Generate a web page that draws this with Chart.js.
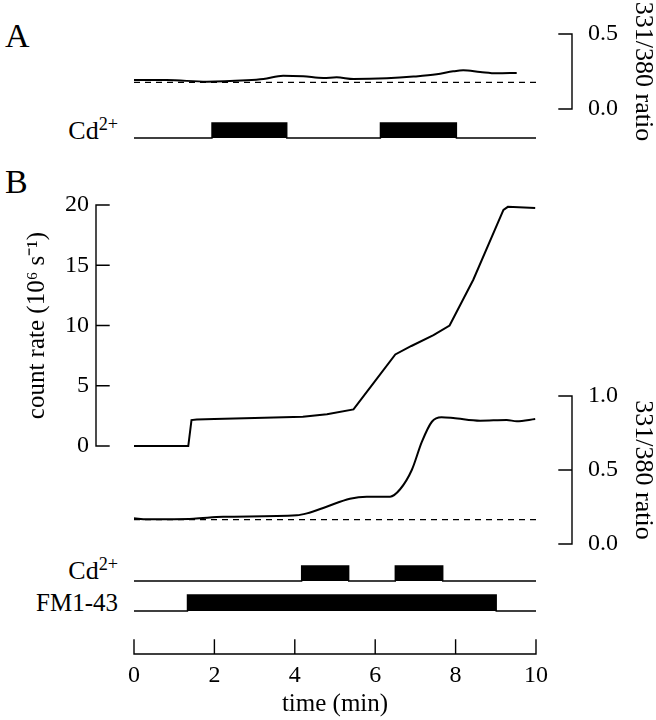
<!DOCTYPE html>
<html><head><meta charset="utf-8">
<script src="https://cdn.jsdelivr.net/npm/chart.js@4.4.0/dist/chart.umd.min.js"></script>
<style>
html,body{margin:0;padding:0;background:#fff;}
#wrap{position:relative;width:656px;height:720px;overflow:hidden;font-family:"Liberation Serif",serif;color:#000;background:#fff;}
canvas{position:absolute;left:0;}
.lbl{position:absolute;line-height:1;white-space:nowrap;font-size:25px;}
.lbl sup{font-size:0.7em;position:relative;top:-0.5em;vertical-align:baseline;line-height:0;}
.panel{font-size:34px;}
</style></head><body>
<div id="wrap">
  <div class="lbl panel" style="left:5px;top:19px;">A</div>
  <div class="lbl panel" style="left:5px;top:165px;">B</div>
  <div class="lbl" style="right:538px;top:118px;font-size:26px;">Cd<sup>2+</sup></div>
  <div class="lbl" style="right:538px;top:558px;font-size:26px;">Cd<sup>2+</sup></div>
  <div class="lbl" style="right:538px;top:590px;">FM1-43</div>
  <canvas id="cA" width="656" height="150" style="top:0px"></canvas>
  <canvas id="cCdA" width="656" height="40" style="top:110px"></canvas>
  <canvas id="cCount" width="656" height="300" style="top:160px"></canvas>
  <canvas id="cRatioB" width="656" height="180" style="top:380px"></canvas>
  <canvas id="cCdB" width="656" height="35" style="top:555px"></canvas>
  <canvas id="cFM" width="656" height="30" style="top:590px"></canvas>
  <canvas id="cX" width="656" height="100" style="top:620px"></canvas>
</div>
<script>
// ---------------- data ----------------
const timeMin = 0, timeMax = 10;
const timeTickStep = 2;

// Panel A: 331/380 ratio
const ratioA_t = [0, 0.81, 1.81, 2.80, 3.22, 3.71, 4.21, 4.71, 5.04, 5.46, 6.29, 6.95, 7.53, 7.94, 8.19, 8.61, 9.02, 9.52];
const ratioA_v = [0.193, 0.193, 0.182, 0.191, 0.200, 0.222, 0.218, 0.207, 0.211, 0.200, 0.205, 0.216, 0.231, 0.251, 0.258, 0.247, 0.238, 0.240];
const ratioA_baseline = 0.178;
const ratioA_ticks = [0, 0.5];
const cdA = [[1.94, 3.80], [6.13, 8.02]];

// Panel B: count rate (10^6 s^-1)
const count_t = [0, 1.35, 1.43, 1.56, 2.0, 3.0, 4.2, 4.8, 5.46, 6.0, 6.5, 6.9, 7.45, 7.85, 8.44, 9.19, 9.3, 9.98];
const count_v = [0, 0, 2.15, 2.2, 2.24, 2.32, 2.43, 2.63, 3.04, 5.4, 7.6, 8.3, 9.2, 10.0, 13.8, 19.6, 19.85, 19.75];
const count_ticks = [0, 5, 10, 15, 20];

// Panel B: 331/380 ratio
const ratioB_t = [0, 0.32, 1.48, 2.22, 4.05, 4.30, 4.79, 5.37, 5.79, 6.37, 6.62, 6.91, 7.16, 7.41, 7.65, 7.94, 8.61, 9.27, 9.52, 9.98];
const ratioB_v = [0.174, 0.167, 0.171, 0.184, 0.194, 0.207, 0.252, 0.306, 0.320, 0.320, 0.370, 0.500, 0.690, 0.826, 0.856, 0.851, 0.833, 0.838, 0.829, 0.845];
const ratioB_baseline = 0.165;
const ratioB_ticks = [0, 0.5, 1.0];
const cdB = [[4.17, 5.34], [6.50, 7.68]];
const fm143 = [[1.33, 9.01]];

// ---------------- helpers ----------------
const FONT = '"Liberation Serif", serif';
Chart.defaults.font.family = FONT;
Chart.defaults.color = '#000';

const bracketPlugin = {
  id: 'bracket',
  afterDraw(chart, args, opts) {
    const items = (opts && opts.items) || [];
    const ctx = chart.ctx, ca = chart.chartArea;
    items.forEach(b => {
      const s = chart.scales[b.scale];
      ctx.save();
      ctx.strokeStyle = '#000';
      ctx.lineWidth = 1.4;
      ctx.lineCap = 'square';
      ctx.beginPath();
      if (s.isHorizontal()) {
        const y = ca.bottom + b.offset;
        ctx.moveTo(s.getPixelForValue(s.min), y);
        ctx.lineTo(s.getPixelForValue(s.max), y);
        s.ticks.forEach(t => { const x = s.getPixelForValue(t.value); ctx.moveTo(x, y); ctx.lineTo(x, y + b.tick); });
      } else {
        const x = (b.side === 'left' ? ca.left : ca.right) + b.offset;
        ctx.moveTo(x, s.getPixelForValue(s.min));
        ctx.lineTo(x, s.getPixelForValue(s.max));
        s.ticks.forEach(t => { const y = s.getPixelForValue(t.value); ctx.moveTo(x, y); ctx.lineTo(x + b.tick, y); });
      }
      ctx.stroke();
      ctx.restore();
    });
  }
};
Chart.register(bracketPlugin);

function pts(ts, vs) { return ts.map((t, i) => ({x: t, y: vs[i]})); }
function flat(v) { return [{x: timeMin, y: v}, {x: timeMax, y: v}]; }
function stepPoints(iv) {
  const p = [{x: timeMin, y: 0}];
  iv.forEach(([a, b]) => { p.push({x: a, y: 0}, {x: a, y: 1}, {x: b, y: 1}, {x: b, y: 0}); });
  p.push({x: timeMax, y: 0});
  return p;
}
const xHidden = {type: 'linear', min: timeMin, max: timeMax, display: false};

function traceDs(data, extra) {
  return Object.assign({data, borderColor: '#000', borderWidth: 2, pointRadius: 0, tension: 0, clip: false, fill: false}, extra || {});
}
function dashDs(v) {
  return {data: flat(v), borderColor: '#000', borderWidth: 1.2, borderDash: [6, 5], pointRadius: 0, clip: false, fill: false};
}
function stimDs(iv) {
  return {data: stepPoints(iv), borderColor: '#000', backgroundColor: '#000', borderWidth: 1.4, pointRadius: 0, tension: 0, clip: false, fill: 'origin'};
}
function noPad(s) { s.paddingTop = 0; s.paddingBottom = 0; s.paddingLeft = 0; s.paddingRight = 0; }

function mk(id, datasets, scales, padding, brackets) {
  return new Chart(document.getElementById(id), {
    type: 'line',
    data: {datasets},
    options: {
      responsive: false, animation: false, events: [],
      layout: {padding},
      plugins: {legend: {display: false}, tooltip: {enabled: false}, bracket: {items: brackets || []}},
      scales
    }
  });
}

function ratioAxis(ticksArr) {
  return {
    type: 'linear', position: 'right', min: ticksArr[0], max: ticksArr[ticksArr.length - 1],
    afterBuildTicks: s => { s.ticks = ticksArr.map(v => ({value: v})); },
    ticks: {padding: 52, font: {size: 24}, callback: v => Number(v).toFixed(1)},
    grid: {display: false, drawTicks: false}, border: {display: false},
    title: {display: true, text: '331/380 ratio', font: {size: 26, lineHeight: 1.0}, padding: {top: 0, bottom: 0}},
    afterFit: s => { s.width = 120; noPad(s); }
  };
}
const stimY = {type: 'linear', min: 0, max: 1, display: false};

// ---------------- charts ----------------
// A: ratio
mk('cA',
  [traceDs(pts(ratioA_t, ratioA_v), {cubicInterpolationMode: 'monotone'}), dashDs(ratioA_baseline)],
  {x: xHidden, y: ratioAxis(ratioA_ticks)},
  {left: 134, right: 0, top: 34, bottom: 41},
  [{scale: 'y', side: 'right', offset: 36, tick: -13}]);

// A: Cd2+
mk('cCdA', [stimDs(cdA)], {x: xHidden, y: stimY}, {left: 134, right: 120, top: 13, bottom: 12});

// B: count rate
mk('cCount',
  [traceDs(pts(count_t, count_v))],
  {x: xHidden,
   y: {type: 'linear', position: 'left', min: count_ticks[0], max: count_ticks[count_ticks.length - 1],
       afterBuildTicks: s => { s.ticks = count_ticks.map(v => ({value: v})); },
       ticks: {padding: 45, font: {size: 24}},
       grid: {display: false, drawTicks: false}, border: {display: false},
       title: {display: true, text: 'count rate (10\u2076 s\u207B\u00B9)', font: {size: 25, lineHeight: 1.1}, padding: {top: 24, bottom: 0}},
       afterFit: s => { s.width = 134; noPad(s); }}},
  {left: 0, right: 120, top: 45, bottom: 14},
  [{scale: 'y', side: 'left', offset: -38, tick: 13}]);

// B: ratio
mk('cRatioB',
  [traceDs(pts(ratioB_t, ratioB_v), {cubicInterpolationMode: 'monotone'}), dashDs(ratioB_baseline)],
  {x: xHidden, y: ratioAxis(ratioB_ticks)},
  {left: 134, right: 0, top: 16, bottom: 16},
  [{scale: 'y', side: 'right', offset: 36, tick: -13}]);

// B: Cd2+ and FM1-43
mk('cCdB', [stimDs(cdB)], {x: xHidden, y: stimY}, {left: 134, right: 120, top: 11, bottom: 9});
mk('cFM', [stimDs(fm143)], {x: xHidden, y: stimY}, {left: 134, right: 120, top: 5, bottom: 9});

// time axis
mk('cX', [],
  {x: {type: 'linear', position: 'bottom', min: timeMin, max: timeMax,
       ticks: {stepSize: timeTickStep, padding: 7, font: {size: 24}},
       grid: {display: false, drawTicks: false}, border: {display: false},
       title: {display: true, text: 'time (min)', font: {size: 25, lineHeight: 1.1}, padding: {top: 0, bottom: 2}},
       afterFit: s => { s.height = 66; noPad(s); }},
   y: {type: 'linear', min: 0, max: 1, display: false}},
  {left: 134, right: 120, top: 5, bottom: 0},
  [{scale: 'x', offset: 0, tick: -14}]);
</script>
</body></html>
